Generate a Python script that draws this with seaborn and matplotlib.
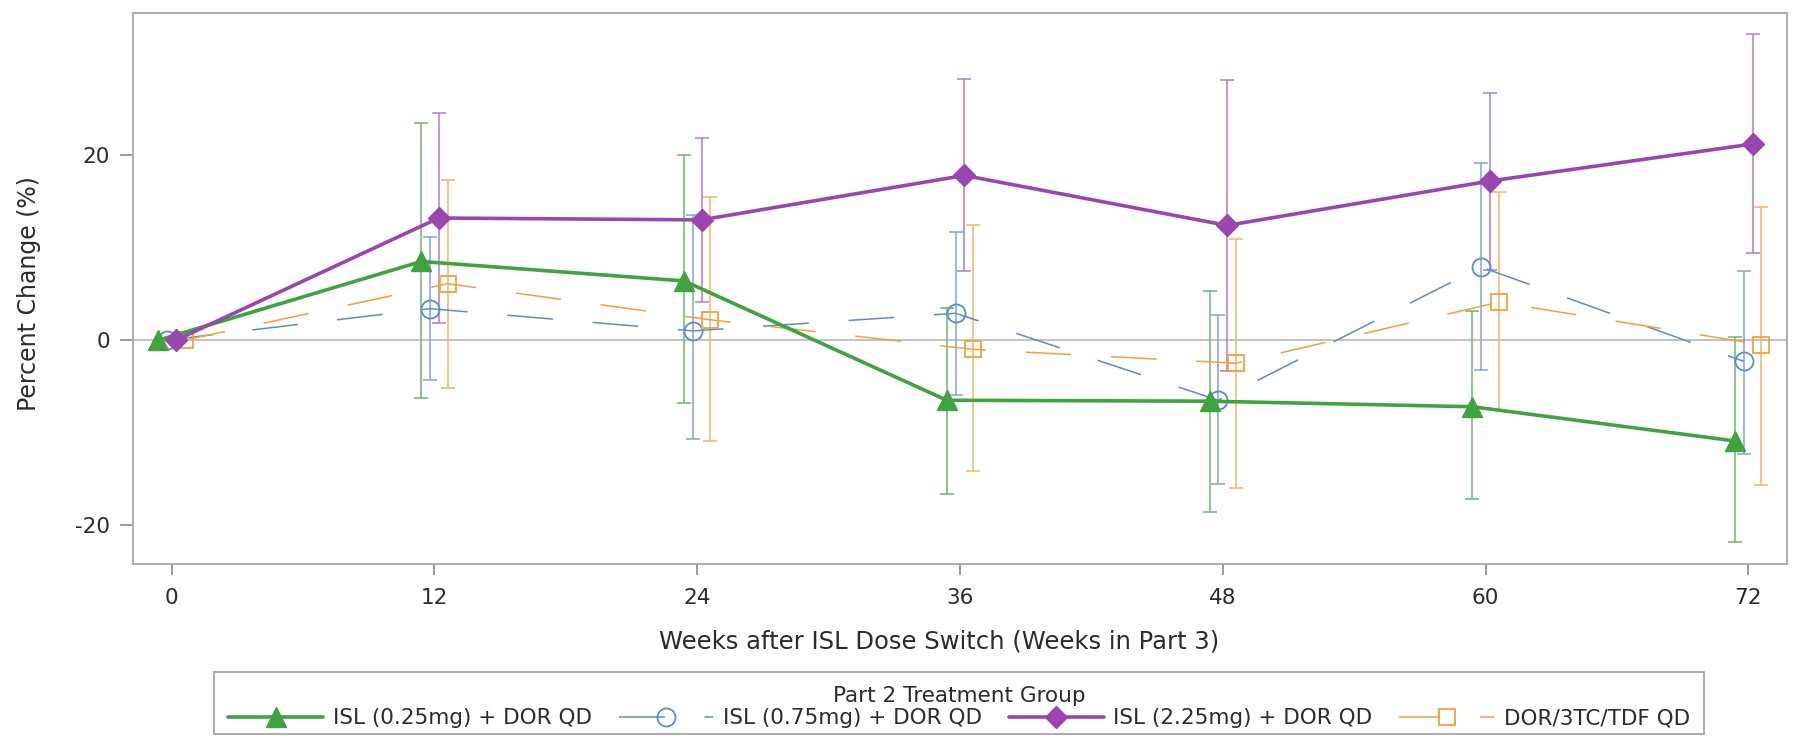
import numpy as np
import pandas as pd
import matplotlib
matplotlib.use("Agg")
import matplotlib.pyplot as plt
from matplotlib.lines import Line2D
from matplotlib.patches import Rectangle
import seaborn as sns

# ---------------- data ----------------
weeks = [0, 12, 24, 36, 48, 60, 72]
groups = ["ISL (0.25mg) + DOR QD", "ISL (0.75mg) + DOR QD",
          "ISL (2.25mg) + DOR QD", "DOR/3TC/TDF QD"]

isl025_mean = [0, 8.5, 6.4, -6.5, -6.6, -7.2, -10.9]
isl025_lo = [np.nan, -6.3, -6.8, -16.6, -18.6, -17.2, -21.8]
isl025_hi = [np.nan, 23.5, 20.0, 3.5, 5.3, 3.2, 0.3]

isl075_mean = [0, 3.4, 1.0, 2.9, -6.5, 7.9, -2.3]
isl075_lo = [np.nan, -4.3, -10.7, -5.9, -15.5, -3.2, -12.3]
isl075_hi = [np.nan, 11.1, 13.5, 11.7, 2.7, 19.1, 7.5]

isl225_mean = [0, 13.2, 13.0, 17.8, 12.4, 17.2, 21.2]
isl225_lo = [np.nan, 1.9, 4.1, 7.5, -3.3, 7.6, 9.4]
isl225_hi = [np.nan, 24.6, 21.9, 28.2, 28.1, 26.7, 33.1]

dor_mean = [0, 6.1, 2.2, -1.0, -2.5, 4.1, -0.5]
dor_lo = [np.nan, -5.2, -10.9, -14.2, -16.0, -7.6, -15.7]
dor_hi = [np.nan, 17.3, 15.5, 12.4, 10.9, 16.0, 14.4]

means = [isl025_mean, isl075_mean, isl225_mean, dor_mean]
lows = [isl025_lo, isl075_lo, isl225_lo, dor_lo]
highs = [isl025_hi, isl075_hi, isl225_hi, dor_hi]

# ---------------- style ----------------
colors = ["#3fa33f", "#5b8dc9", "#9a45b0", "#f4a03c"]
err_colors = ["#6cb86c", "#7ea6d6", "#b27cc4", "#f6b466"]
offsets = [-0.6, -0.2, 0.2, 0.6]
markers = ["^", "o", "D", "s"]
filled = [True, False, True, False]
msizes = [14, 13, 11, 12]
lws = [2.6, 1.1, 2.6, 1.1]
lstyles = ["-", (0, (30, 26)), "-", (3, (30, 26))]

sns.set_theme(style="white")
plt.rcParams["font.family"] = ["DejaVu Sans"]
plt.rcParams["axes.unicode_minus"] = False
text_color = "#2b2b2b"
frame_color = "#a6a6a6"

rows = []
for g, m in zip(groups, means):
    for w, v in zip(weeks, m):
        rows.append({"group": g, "week": w, "mean": v})
df = pd.DataFrame(rows)
df["xpos"] = df["week"] + df["group"].map(dict(zip(groups, offsets)))

W, H = 1793, 743
fig = plt.figure(figsize=(W / 100, H / 100), dpi=100)
ax = fig.add_axes([0.0742, 0.2409, 0.9225, 0.7421])

ax.axhline(0, color="#bdbdbd", lw=1.3, zorder=0)

for i, g in enumerate(groups):
    sub = df[df["group"] == g]
    lo = np.array(lows[i], dtype=float)
    hi = np.array(highs[i], dtype=float)
    mv = sub["mean"].to_numpy()
    ax.errorbar(sub["xpos"], mv, yerr=[mv - lo, hi - mv], fmt="none",
                ecolor=err_colors[i], elinewidth=1.1, capsize=5, capthick=1.1,
                zorder=2)
for i, g in enumerate(groups):
    sub = df[df["group"] == g]
    sns.lineplot(data=sub, x="xpos", y="mean", ax=ax, color=colors[i],
                 linewidth=lws[i], linestyle=lstyles[i], marker=markers[i],
                 markersize=msizes[i],
                 markerfacecolor=colors[i] if filled[i] else "none",
                 markeredgecolor=colors[i],
                 markeredgewidth=1.0 if filled[i] else 1.3,
                 legend=False, zorder=3 if filled[i] else 2.5)

ax.set_xlim(-1.76, 73.77)
ax.set_ylim(-24.2, 35.4)
ax.set_xticks(weeks)
ax.set_yticks([-20, 0, 20])
ax.set_xlabel("Weeks after ISL Dose Switch (Weeks in Part 3)", fontsize=17.5,
              color=text_color)
ax.set_ylabel("Percent Change (%)", fontsize=17, color=text_color)
ax.xaxis.set_label_coords(0.4873, -0.141)
ax.xaxis.label.set_verticalalignment("center")
ax.yaxis.set_label_coords(-0.0631, 0.49)
ax.yaxis.label.set_verticalalignment("center")
ax.tick_params(axis="both", which="major", direction="out", width=1.2,
               color="#8a8a8a", labelsize=15.5, labelcolor=text_color,
               bottom=True, left=True)
ax.tick_params(axis="x", length=8, pad=9)
ax.tick_params(axis="y", length=9.5, pad=7)
for s in ax.spines.values():
    s.set_color(frame_color)
    s.set_linewidth(1.3)

handles = []
for i, g in enumerate(groups):
    handles.append(Line2D([0], [0], color=colors[i], lw=lws[i], linestyle=lstyles[i],
                          marker=markers[i], markersize=msizes[i],
                          markerfacecolor=colors[i] if filled[i] else "none",
                          markeredgecolor=colors[i],
                          markeredgewidth=1.0 if filled[i] else 1.3))
leg = fig.legend(handles, groups, loc="upper center",
                 bbox_to_anchor=(959 / W, 1 - 686 / H),
                 ncol=4, fontsize=15.5, title="Part 2 Treatment Group",
                 title_fontsize=15.5, frameon=False,
                 handlelength=4.4, handletextpad=0.45, columnspacing=1.25,
                 borderpad=0.0, borderaxespad=0.0, labelspacing=0.1)
for t in leg.get_texts():
    t.set_color(text_color)
leg.get_title().set_color(text_color)

# legend frame: box around the legend contents, spanning the legend band
fig.canvas.draw()
bb = leg.get_window_extent(fig.canvas.get_renderer())
pad_x = 14
frame_top, frame_bottom = 672, 734
fig.patches.append(Rectangle(((bb.x0 - pad_x) / W, 1 - frame_bottom / H),
                             (bb.width + 2 * pad_x) / W,
                             (frame_bottom - frame_top) / H,
                             transform=fig.transFigure, fill=False,
                             edgecolor=frame_color, linewidth=1.3))

fig.savefig("out.png", dpi=100)
